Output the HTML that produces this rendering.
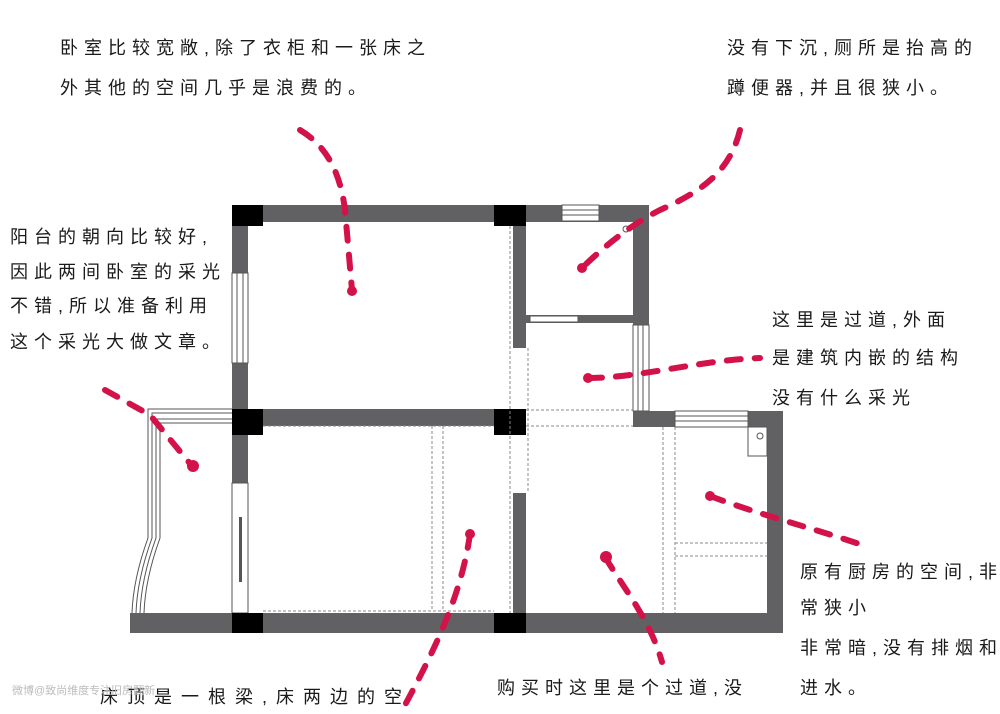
<!DOCTYPE html>
<html><head><meta charset="utf-8"><style>
html,body{margin:0;padding:0;background:#fff;}
body{width:1000px;height:714px;position:relative;overflow:hidden;}
svg{position:absolute;left:0;top:0;}
.t{position:absolute;font-family:"Liberation Sans","WenQuanYi Zen Hei","Noto Sans CJK SC",sans-serif;font-size:18px;color:#1a1a1a;letter-spacing:6px;white-space:nowrap;line-height:18px;}
</style></head><body>
<svg width="1000" height="714" viewBox="0 0 1000 714">
<g fill="#616063">
<rect x="232" y="205" width="417" height="17"/>
<rect x="232" y="205" width="16" height="428"/>
<rect x="232" y="409" width="294" height="17"/>
<rect x="130" y="613" width="653" height="20"/>
<rect x="513" y="205" width="13" height="143"/>
<rect x="513" y="493" width="13" height="130"/>
<rect x="633" y="205" width="16" height="120"/>
<rect x="526" y="315" width="123" height="8"/>
<rect x="633" y="411" width="150" height="16"/>
<rect x="767" y="411" width="16" height="222"/>
</g>
<g fill="#fff" stroke="#555" stroke-width="1">
<rect x="232" y="273" width="16" height="90"/>
<line x1="237" y1="273" x2="237" y2="363"/><line x1="243" y1="273" x2="243" y2="363"/>
<rect x="562" y="205" width="37" height="16"/>
<line x1="562" y1="210" x2="599" y2="210"/><line x1="562" y1="215" x2="599" y2="215"/>
<rect x="530" y="316" width="48" height="6"/>
<rect x="633" y="325" width="16" height="86"/>
<line x1="638" y1="325" x2="638" y2="411"/><line x1="643" y1="325" x2="643" y2="411"/>
<rect x="675" y="411" width="73" height="16"/>
<line x1="675" y1="416" x2="748" y2="416"/><line x1="675" y1="421" x2="748" y2="421"/>
<rect x="232" y="483" width="16" height="130"/>
<rect x="748" y="427" width="19" height="29"/>
<circle cx="760" cy="436" r="3"/>
<circle cx="626" cy="229" r="3"/>
</g>
<rect x="239" y="517" width="3" height="65" fill="#555"/>
<g fill="#000">
<rect x="232" y="205" width="31" height="21"/>
<rect x="494" y="205" width="32" height="21"/>
<rect x="232" y="409" width="31" height="26"/>
<rect x="494" y="409" width="32" height="26"/>
<rect x="232" y="613" width="31" height="20"/>
<rect x="494" y="613" width="32" height="20"/>
</g>
<g stroke="#888" stroke-width="1" stroke-dasharray="3,2" fill="none">
<line x1="510" y1="226" x2="510" y2="613"/>
<line x1="528" y1="348" x2="528" y2="493"/>
<line x1="263" y1="426" x2="494" y2="426"/>
<line x1="263" y1="611" x2="494" y2="611"/>
<line x1="432" y1="426" x2="432" y2="611"/>
<line x1="443" y1="426" x2="443" y2="611"/>
<line x1="526" y1="410" x2="633" y2="410"/>
<line x1="526" y1="426" x2="633" y2="426"/>
<line x1="663" y1="427" x2="663" y2="613"/>
<line x1="675" y1="427" x2="675" y2="613"/>
<line x1="675" y1="543" x2="767" y2="543"/>
<line x1="675" y1="556" x2="767" y2="556"/>
</g>
<g stroke="#555" stroke-width="1" fill="none">
<path d="M232 409 H148 V538 C140 560 133 585 132 613"/>
<path d="M232 413 H152 V538 C144 560 137 585 136 613"/>
<path d="M232 419 H156 V538 C148 560 141 585 140 613"/>
<path d="M232 423 H160 V538 C152 560 145 585 144 613"/>
</g>
<g stroke="#d4124a" stroke-width="6" stroke-linecap="round" fill="none" stroke-dasharray="14,14">
<path d="M300 130 C325 145 340 170 345 210 L352 290"/>
<path d="M740 130 C730 170 705 190 660 210 C630 225 600 250 582 268"/>
<path d="M588 378 C640 378 700 360 760 358"/>
<path d="M105 390 L150 415 L192 466"/>
<path d="M470 534 C462 590 440 640 405 705"/>
<path d="M605 557 C625 590 650 620 662 662"/>
<path d="M710 496 C760 515 820 530 868 547"/>
</g>
<g fill="#d4124a">
<circle cx="352" cy="291" r="5"/><circle cx="582" cy="268" r="5"/><circle cx="588" cy="378" r="5"/>
<circle cx="193" cy="466" r="6"/><circle cx="470" cy="534" r="5"/><circle cx="606" cy="557" r="6"/><circle cx="710" cy="496" r="5"/>
</g>
</svg>
<div class="t" style="left:60px;top:39px;">卧室比较宽敞,除了衣柜和一张床之</div>
<div class="t" style="left:60px;top:79px;">外其他的空间几乎是浪费的。</div>
<div class="t" style="left:727px;top:39px;">没有下沉,厕所是抬高的</div>
<div class="t" style="left:727px;top:79px;">蹲便器,并且很狭小。</div>
<div class="t" style="left:10px;top:228px;">阳台的朝向比较好,</div>
<div class="t" style="left:10px;top:263px;">因此两间卧室的采光</div>
<div class="t" style="left:10px;top:297px;">不错,所以准备利用</div>
<div class="t" style="left:10px;top:333px;">这个采光大做文章。</div>
<div class="t" style="left:772px;top:311px;">这里是过道,外面</div>
<div class="t" style="left:772px;top:349px;">是建筑内嵌的结构</div>
<div class="t" style="left:772px;top:389px;">没有什么采光</div>
<div class="t" style="left:800px;top:563px;">原有厨房的空间,非</div>
<div class="t" style="left:800px;top:599px;">常狭小</div>
<div class="t" style="left:800px;top:639px;">非常暗,没有排烟和</div>
<div class="t" style="left:800px;top:679px;">进水。</div>
<div class="t" style="left:100px;top:688px;letter-spacing:9px;">床顶是一根梁,床两边的空</div>
<div class="t" style="left:497px;top:679px;">购买时这里是个过道,没</div>
<div class="t" style="left:12px;top:682px;font-size:11px;letter-spacing:0;color:#bbb;">微博@致尚维度专注旧房翻新</div>
</body></html>
